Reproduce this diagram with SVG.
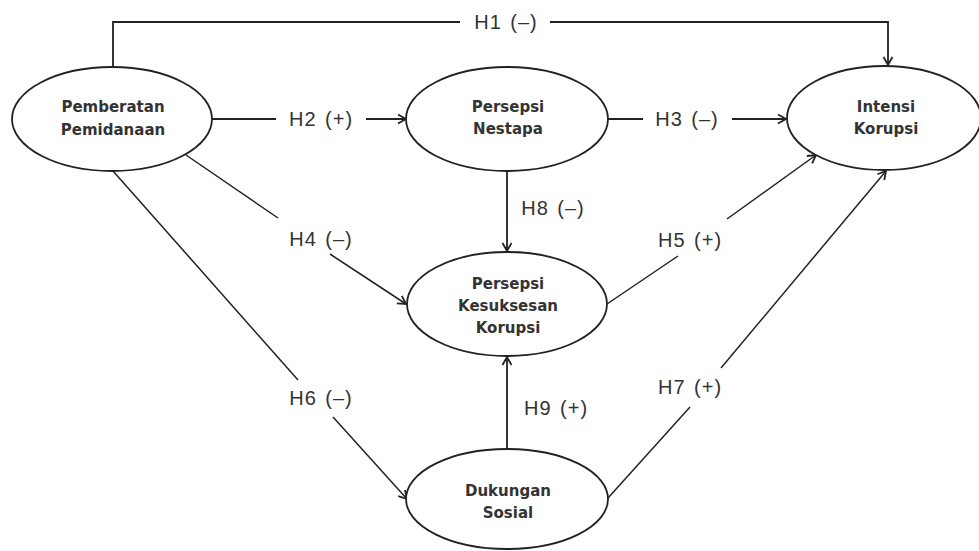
<svg xmlns="http://www.w3.org/2000/svg" width="979" height="551" viewBox="0 0 979 551">
<style>
.node ellipse{fill:#fff;stroke:#222;stroke-width:1.8}
.node text{font-family:"DejaVu Sans",Verdana,sans-serif;font-weight:bold;font-size:15px;fill:#333;text-anchor:middle}
.conn path{fill:none;stroke:#222;stroke-width:1.8}
.conn path.d{stroke-width:1.5}
.lbl{font-family:"Liberation Sans",Arial,sans-serif;font-size:20px;fill:#333;text-anchor:middle;letter-spacing:1px;word-spacing:2px}
</style>
<defs>
<marker id="ah" markerUnits="userSpaceOnUse" markerWidth="12" markerHeight="12" viewBox="-10 -6 12 12" refX="0" refY="0" orient="auto">
<path d="M-8,-4.5 L0,0 L-8,4.5" fill="none" stroke="#222" stroke-width="1.8"/>
</marker>
</defs>
<rect width="979" height="551" fill="#fff"/>
<g class="conn" id="connectors">
<path d="M113,67 V22 H460"/>
<path d="M550,22 H888 V65" marker-end="url(#ah)"/>
<path d="M212,119 H276"/>
<path d="M366,119 H406" marker-end="url(#ah)"/>
<path d="M608,119 H643"/>
<path d="M732,119 H786" marker-end="url(#ah)"/>
<path d="M507,171 V251" marker-end="url(#ah)"/>
<path d="M507,449 V357" marker-end="url(#ah)"/>
<path class="d" d="M186,155 L278,218"/>
<path class="d" d="M330,254 L406,304" marker-end="url(#ah)"/>
<path class="d" d="M113,171 L298,380"/>
<path class="d" d="M333,417 L407,499" marker-end="url(#ah)"/>
<path class="d" d="M607,304 L678,256"/>
<path class="d" d="M727,219 L816,155" marker-end="url(#ah)"/>
<path class="d" d="M608,498 L690,407"/>
<path class="d" d="M721,368 L886,171" marker-end="url(#ah)"/>
</g>
<g id="labels">
<text class="lbl" x="506" y="29">H1 (–)</text>
<text class="lbl" x="321" y="126">H2 (+)</text>
<text class="lbl" x="687" y="126">H3 (–)</text>
<text class="lbl" x="553" y="215">H8 (–)</text>
<text class="lbl" x="321" y="246">H4 (–)</text>
<text class="lbl" x="690" y="247">H5 (+)</text>
<text class="lbl" x="321" y="405">H6 (–)</text>
<text class="lbl" x="556" y="415">H9 (+)</text>
<text class="lbl" x="690" y="394">H7 (+)</text>
</g>
<g class="node" id="pemberatan">
<ellipse cx="112" cy="119" rx="100" ry="52"/>
<text x="113" y="112">Pemberatan</text>
<text x="113" y="135">Pemidanaan</text>
</g>
<g class="node" id="nestapa">
<ellipse cx="507" cy="119" rx="101" ry="52"/>
<text x="508" y="112">Persepsi</text>
<text x="508" y="134">Nestapa</text>
</g>
<g class="node" id="intensi">
<ellipse cx="884" cy="118" rx="97" ry="52"/>
<text x="886" y="112">Intensi</text>
<text x="886" y="134">Korupsi</text>
</g>
<g class="node" id="kesuksesan">
<ellipse cx="507" cy="304" rx="100" ry="52"/>
<text x="508" y="289">Persepsi</text>
<text x="508" y="311">Kesuksesan</text>
<text x="508" y="333">Korupsi</text>
</g>
<g class="node" id="dukungan">
<ellipse cx="507" cy="499" rx="101" ry="50"/>
<text x="508" y="496">Dukungan</text>
<text x="508" y="518">Sosial</text>
</g>
</svg>
